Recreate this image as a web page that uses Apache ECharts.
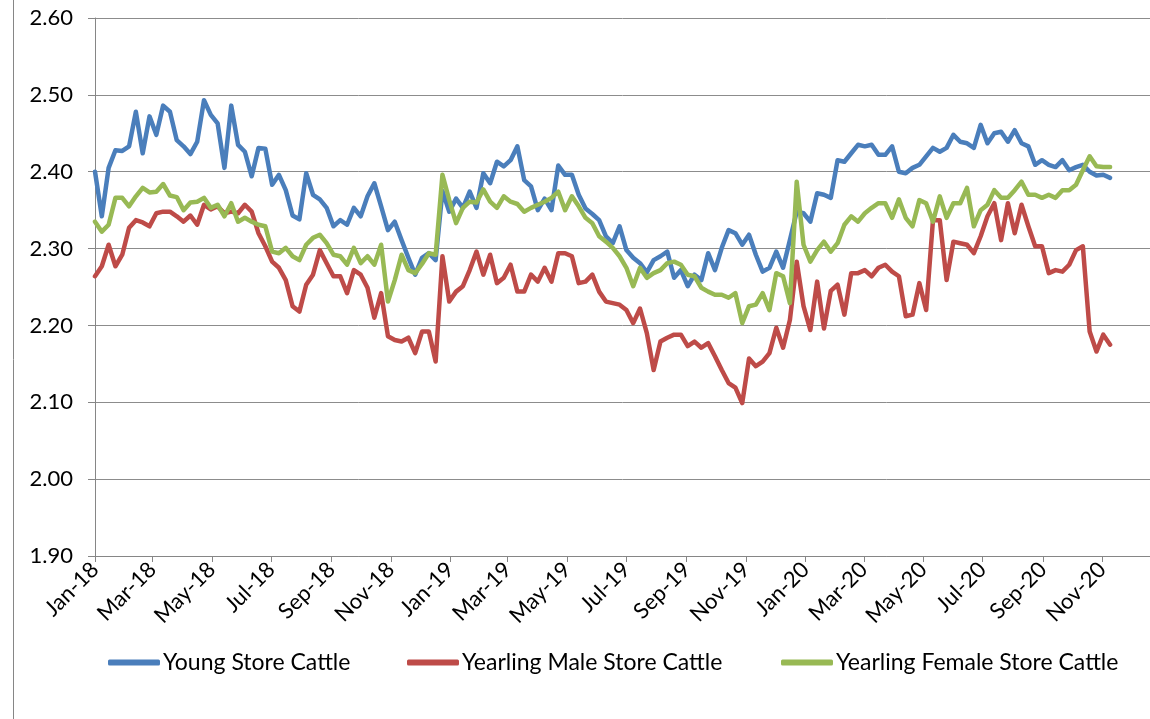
<!DOCTYPE html>
<html>
<head>
<meta charset="utf-8">
<script src="https://cdn.jsdelivr.net/npm/echarts@6/dist/echarts.min.js"></script>
<style>
html,body{margin:0;padding:0;background:#fff;}
#chart{width:1150px;height:719px;}
</style>
</head>
<body>
<div id="chart"></div>
<script>
// Weekly observation dates
const weeks = [
'2018-01-01','2018-01-08','2018-01-15','2018-01-22','2018-01-29','2018-02-05','2018-02-12','2018-02-19','2018-02-26','2018-03-05',
'2018-03-12','2018-03-19','2018-03-26','2018-04-02','2018-04-09','2018-04-16','2018-04-23','2018-04-30','2018-05-07','2018-05-14',
'2018-05-21','2018-05-28','2018-06-04','2018-06-11','2018-06-18','2018-06-25','2018-07-02','2018-07-09','2018-07-16','2018-07-23',
'2018-07-30','2018-08-06','2018-08-13','2018-08-20','2018-08-27','2018-09-03','2018-09-10','2018-09-17','2018-09-24','2018-10-01',
'2018-10-08','2018-10-15','2018-10-22','2018-10-29','2018-11-05','2018-11-12','2018-11-19','2018-11-26','2018-12-03','2018-12-10',
'2018-12-17','2018-12-24','2018-12-31','2019-01-07','2019-01-14','2019-01-21','2019-01-28','2019-02-04','2019-02-11','2019-02-18',
'2019-02-25','2019-03-04','2019-03-11','2019-03-18','2019-03-25','2019-04-01','2019-04-08','2019-04-15','2019-04-22','2019-04-29',
'2019-05-06','2019-05-13','2019-05-20','2019-05-27','2019-06-03','2019-06-10','2019-06-17','2019-06-24','2019-07-01','2019-07-08',
'2019-07-15','2019-07-22','2019-07-29','2019-08-05','2019-08-12','2019-08-19','2019-08-26','2019-09-02','2019-09-09','2019-09-16',
'2019-09-23','2019-09-30','2019-10-07','2019-10-14','2019-10-21','2019-10-28','2019-11-04','2019-11-11','2019-11-18','2019-11-25',
'2019-12-02','2019-12-09','2019-12-16','2019-12-23','2019-12-30','2020-01-06','2020-01-13','2020-01-20','2020-01-27','2020-02-03',
'2020-02-10','2020-02-17','2020-02-24','2020-03-02','2020-03-09','2020-03-16','2020-03-23','2020-03-30','2020-04-06','2020-04-13',
'2020-04-20','2020-04-27','2020-05-04','2020-05-11','2020-05-18','2020-05-25','2020-06-01','2020-06-08','2020-06-15','2020-06-22',
'2020-06-29','2020-07-06','2020-07-13','2020-07-20','2020-07-27','2020-08-03','2020-08-10','2020-08-17','2020-08-24','2020-08-31',
'2020-09-07','2020-09-14','2020-09-21','2020-09-28','2020-10-05','2020-10-12','2020-10-19','2020-10-26','2020-11-02','2020-11-09'
];

const youngStore = [
2.400,2.342,2.405,2.428,2.427,2.433,2.478,2.424,2.472,2.448,
2.486,2.478,2.441,2.433,2.423,2.439,2.493,2.474,2.463,2.405,
2.486,2.435,2.426,2.394,2.431,2.430,2.383,2.396,2.376,2.343,
2.338,2.398,2.370,2.364,2.353,2.329,2.337,2.331,2.353,2.342,
2.368,2.385,2.355,2.324,2.335,2.311,2.288,2.266,2.288,2.294,
2.285,2.375,2.348,2.365,2.353,2.374,2.353,2.398,2.385,2.413,
2.407,2.415,2.433,2.389,2.381,2.350,2.365,2.350,2.408,2.396,
2.396,2.370,2.352,2.345,2.337,2.316,2.307,2.329,2.298,2.288,
2.281,2.269,2.285,2.290,2.296,2.262,2.272,2.251,2.266,2.259,
2.294,2.272,2.301,2.324,2.320,2.305,2.318,2.292,2.270,2.275,
2.296,2.275,2.311,2.348,2.346,2.335,2.372,2.370,2.366,2.415,
2.413,2.424,2.435,2.433,2.435,2.422,2.422,2.433,2.400,2.398,
2.405,2.409,2.420,2.431,2.426,2.431,2.448,2.439,2.437,2.431,
2.461,2.437,2.450,2.452,2.439,2.454,2.437,2.433,2.409,2.415,
2.409,2.406,2.415,2.402,2.406,2.409,2.400,2.395,2.396,2.392
];

const yearlingMale = [
2.264,2.277,2.305,2.277,2.292,2.327,2.337,2.334,2.329,2.346,
2.348,2.348,2.342,2.335,2.343,2.331,2.357,2.351,2.355,2.346,
2.348,2.346,2.357,2.348,2.320,2.303,2.283,2.275,2.259,2.225,
2.218,2.253,2.266,2.298,2.281,2.264,2.264,2.242,2.272,2.266,
2.249,2.210,2.242,2.186,2.181,2.179,2.184,2.164,2.192,2.192,
2.153,2.290,2.231,2.244,2.251,2.272,2.296,2.266,2.292,2.255,
2.262,2.279,2.244,2.244,2.266,2.257,2.275,2.257,2.294,2.294,
2.290,2.255,2.257,2.266,2.244,2.231,2.229,2.227,2.220,2.203,
2.222,2.190,2.142,2.179,2.184,2.188,2.188,2.173,2.179,2.171,
2.177,2.160,2.142,2.125,2.119,2.099,2.157,2.147,2.153,2.164,
2.197,2.171,2.207,2.283,2.225,2.194,2.257,2.196,2.245,2.253,
2.214,2.268,2.268,2.272,2.264,2.275,2.279,2.270,2.264,2.212,
2.214,2.255,2.220,2.337,2.337,2.259,2.309,2.307,2.305,2.294,
2.316,2.342,2.359,2.311,2.359,2.320,2.357,2.329,2.303,2.303,
2.268,2.272,2.270,2.279,2.298,2.303,2.192,2.166,2.188,2.175
];

const yearlingFemale = [
2.335,2.322,2.331,2.366,2.366,2.355,2.368,2.379,2.373,2.374,
2.384,2.369,2.367,2.350,2.360,2.361,2.366,2.353,2.357,2.342,
2.359,2.335,2.340,2.335,2.331,2.329,2.296,2.294,2.301,2.290,
2.285,2.305,2.314,2.318,2.307,2.292,2.290,2.279,2.301,2.281,
2.290,2.279,2.305,2.231,2.259,2.292,2.272,2.268,2.280,2.294,
2.292,2.396,2.363,2.333,2.353,2.361,2.360,2.377,2.361,2.353,
2.368,2.361,2.358,2.348,2.353,2.357,2.361,2.366,2.374,2.350,
2.368,2.355,2.340,2.333,2.316,2.309,2.301,2.290,2.275,2.251,
2.275,2.262,2.268,2.272,2.281,2.283,2.279,2.266,2.264,2.249,
2.244,2.240,2.240,2.236,2.242,2.203,2.225,2.227,2.242,2.220,
2.268,2.264,2.229,2.387,2.305,2.283,2.298,2.309,2.296,2.307,
2.331,2.342,2.335,2.346,2.353,2.359,2.359,2.340,2.364,2.340,
2.329,2.363,2.359,2.335,2.368,2.340,2.359,2.359,2.379,2.329,
2.350,2.357,2.376,2.366,2.366,2.376,2.387,2.370,2.370,2.366,
2.370,2.366,2.376,2.376,2.383,2.402,2.420,2.407,2.406,2.406
];

const seriesNames = ['Young Store Cattle','Yearling Male Store Cattle','Yearling Female Store Cattle'];
const tickDates = ['2018-01-01','2018-03-01','2018-05-01','2018-07-01','2018-09-01','2018-11-01',
'2019-01-01','2019-03-01','2019-05-01','2019-07-01','2019-09-01','2019-11-01',
'2020-01-01','2020-03-01','2020-05-01','2020-07-01','2020-09-01','2020-11-01'];
const tickLabels = ['Jan-18','Mar-18','May-18','Jul-18','Sep-18','Nov-18',
'Jan-19','Mar-19','May-19','Jul-19','Sep-19','Nov-19',
'Jan-20','Mar-20','May-20','Jul-20','Sep-20','Nov-20'];
const yTicks = ['1.90','2.00','2.10','2.20','2.30','2.40','2.50','2.60'];
const axisEndDate = '2020-12-20';

function dayOf(s){
  const p = s.split('-').map(Number);
  return Math.round((Date.UTC(p[0],p[1]-1,p[2]) - Date.UTC(2018,0,1)) / 86400000);
}
const xDays = weeks.map(dayOf);
const tickDays = tickDates.map(dayOf);
const labelByDay = {};
tickDays.forEach((d,i)=>{labelByDay[d]=tickLabels[i];});

const FONT = 'Lato, sans-serif';
const colors = ['#4a7ebb','#be4b48','#98b954'];
const values = [youngStore, yearlingMale, yearlingFemale];

const chart = echarts.init(document.getElementById('chart'), null, {renderer:'canvas'});
const legendLefts = [103, 402, 776];

chart.setOption({
  animation:false,
  backgroundColor:'#fff',
  grid:{left:95, right:0, top:18, bottom:163, containLabel:false},
  xAxis:{
    type:'value',
    min:0,
    max:dayOf(axisEndDate),
    axisLine:{show:true, lineStyle:{color:'#868686', width:1}},
    axisTick:{show:true, length:6, inside:false, customValues:tickDays, lineStyle:{color:'#868686'}},
    axisLabel:{
      customValues:tickDays,
      rotate:45,
      margin:10,
      color:'#000',
      fontFamily:FONT,
      fontSize:22,
      formatter:function(v){ return labelByDay[Math.round(v)] || ''; }
    },
    splitLine:{show:false}
  },
  yAxis:{
    type:'value',
    min:Number(yTicks[0]),
    max:Number(yTicks[yTicks.length-1]),
    interval:0.1,
    axisLine:{show:true, lineStyle:{color:'#868686', width:1}},
    axisTick:{show:true, length:7, inside:false, lineStyle:{color:'#868686'}},
    axisLabel:{
      margin:22,
      color:'#000',
      fontFamily:FONT,
      fontSize:22,
      formatter:function(v){ return v.toFixed(2); }
    },
    splitLine:{show:true, lineStyle:{color:'#8c8c8c', width:1}}
  },
  legend: seriesNames.map((n,i)=>({
    data:[n],
    left:legendLefts[i],
    top:646,
    itemWidth:52,
    itemHeight:6,
    itemGap:0,
    icon:'roundRect',
    textStyle:{color:'#000', fontFamily:FONT, fontSize:23, padding:[0,0,0,-2]},
    selectedMode:false
  })),
  graphic:[{
    type:'line', shape:{x1:13.5,y1:0,x2:13.5,y2:719},
    style:{stroke:'#868686', lineWidth:1}, silent:true
  }],
  series: seriesNames.map((n,i)=>({
    name:n,
    type:'line',
    data:xDays.map((d,k)=>[d, values[i][k]]),
    showSymbol:false,
    symbol:'none',
    lineStyle:{color:colors[i], width:4.5, join:'round', cap:'round'},
    itemStyle:{color:colors[i]},
    emphasis:{disabled:true},
    z:2+i
  }))
});
</script>
</body>
</html>
